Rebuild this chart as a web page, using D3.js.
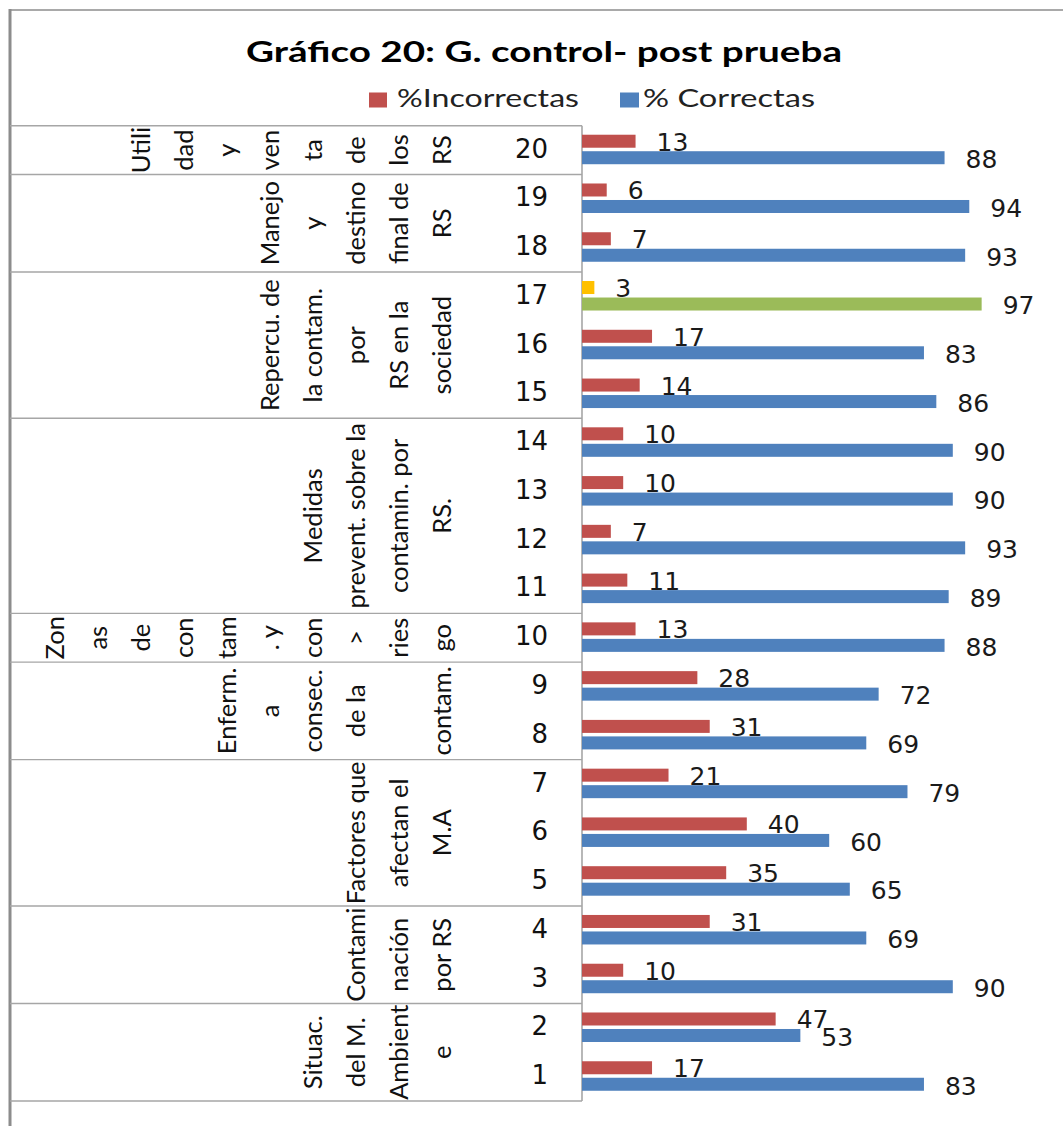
<!DOCTYPE html>
<html><head><meta charset="utf-8">
<script src="https://cdn.jsdelivr.net/npm/d3@7"></script>
<style>html,body{margin:0;padding:0;background:#fff;}svg{display:block;}</style>
</head><body>
<script>
// ---- data ----
const items = ["1","2","3","4","5","6","7","8","9","10","11","12","13","14","15","16","17","18","19","20"];
const incorrectas = [17,47,10,31,35,40,21,31,28,13,11,7,10,10,14,17,3,7,6,13];
const correctas   = [83,53,90,69,65,60,79,69,72,88,89,93,90,90,86,83,97,93,94,88];
const seriesNames = ["%Incorrectas","% Correctas"];
const highlightItem = "17";
const groupFirst = ["1","3","5","8","10","11","15","18","20"];
const groupLast  = ["2","4","7","9","10","14","17","19","20"];
const groupLines = [
  ["Situac.","del M.","Ambient","e"],
  ["Contami","nación","por RS"],
  ["Factores que","afectan el","M.A"],
  ["Enferm.","a","consec.","de la","","contam."],
  ["Zon","as","de","con","tam",". y","con",">","ries","go"],
  ["Medidas","prevent. sobre la","contamin. por","RS."],
  ["Repercu. de","la contam.","por","RS en la","sociedad"],
  ["Manejo","y","destino","final de","RS"],
  ["Utili","dad","y","ven","ta","de","los","RS"]
];
const title = "Gráfico 20: G. control- post prueba";

// ---- style ----
const W = 1063, H = 1126;
const colInc = "#C0504D", colCor = "#4F81BD", colIncHi = "#FFC000", colCorHi = "#9BBB59";
const lineCol = "#a6a6a6";

const svg = d3.select("body").append("svg").attr("width", W).attr("height", H);
svg.append("rect").attr("width", W).attr("height", H).attr("fill", "#fff");

// outer frame
svg.append("line").attr("x1", 10).attr("x2", W).attr("y1", 10).attr("y2", 10)
  .attr("stroke", "#8c8c8c").attr("stroke-width", 1.6);
svg.append("line").attr("x1", 10).attr("x2", 10).attr("y1", 9).attr("y2", H)
  .attr("stroke", "#8c8c8c").attr("stroke-width", 3);

// title
svg.append("text").attr("x", 544).attr("y", 62).attr("text-anchor", "middle")
  .attr("font-family", "Lato, 'Open Sans', sans-serif").attr("font-weight", "bold")
  .attr("font-size", 29).attr("fill", "#000")
  .attr("textLength", 596).attr("lengthAdjust", "spacingAndGlyphs").text(title);

// legend
const legend = [
  {name: seriesNames[0], color: colInc, rx: 369, rw: 18, tx: 397, tl: 182},
  {name: seriesNames[1], color: colCor, rx: 620, rw: 19, tx: 643, tl: 172}
];
legend.forEach(l => {
  svg.append("rect").attr("x", l.rx).attr("y", 92.5).attr("width", l.rw).attr("height", 15).attr("fill", l.color);
  svg.append("text").attr("x", l.tx).attr("y", 107).attr("font-family", "Lato, sans-serif")
    .attr("font-size", 25).attr("fill", "#222")
    .attr("textLength", l.tl).attr("lengthAdjust", "spacingAndGlyphs").text(l.name);
});

// scales
const x0 = 582;
const x = d3.scaleLinear().domain([0, 100]).range([x0, 994]);
const y = d3.scaleBand().domain(items.slice().reverse()).range([125.7, 1101]).padding(0);
const bw = y.bandwidth();
const sub = d3.scaleBand().domain(["inc", "cor"]).range([bw * 0.185, bw * 0.79]).paddingInner(0.212).paddingOuter(0);

// table
const tableLeft = 10;
const g = svg.append("g");
const bounds = [y(items[items.length - 1])].concat(groupFirst.map(f => y(f) + bw));
bounds.forEach(b => {
  g.append("line").attr("x1", tableLeft).attr("x2", x0).attr("y1", b).attr("y2", b)
    .attr("stroke", lineCol).attr("stroke-width", 1.4);
});
g.append("line").attr("x1", x0).attr("x2", x0).attr("y1", y("20")).attr("y2", y("1") + bw)
  .attr("stroke", lineCol).attr("stroke-width", 1.6);

// group labels (rotated, one column per line, block right-aligned)
const lastCol = 441, colStep = 43;
groupFirst.forEach((f, gi) => {
  const top = y(groupLast[gi]), bottom = y(f) + bw;
  const cy = (top + bottom) / 2;
  const lines = groupLines[gi];
  lines.forEach((ln, li) => {
    const cx = lastCol - (lines.length - 1 - li) * colStep;
    g.append("text").attr("transform", `translate(${cx},${cy}) rotate(-90)`)
      .attr("text-anchor", "middle").attr("dominant-baseline", "central")
      .attr("font-family", "Lato, sans-serif").attr("font-size", 25.5).attr("fill", "#111")
      .text(ln);
  });
});

// item numbers
g.selectAll("text.item").data(items).join("text").attr("class", "item")
  .attr("x", 548).attr("y", d => y(d) + bw / 2 - 1.5)
  .attr("text-anchor", "end").attr("dominant-baseline", "central")
  .attr("font-family", "'DejaVu Sans', sans-serif").attr("font-size", 26).attr("fill", "#111")
  .text(d => d);

// bars
const rows = items.map((it, i) => ({item: it, inc: incorrectas[i], cor: correctas[i]}));
const labFont = "'DejaVu Sans', sans-serif";
svg.selectAll("rect.inc").data(rows).join("rect").attr("class", "inc")
  .attr("x", x(0)).attr("y", d => y(d.item) + sub("inc"))
  .attr("width", d => x(d.inc) - x(0)).attr("height", sub.bandwidth())
  .attr("fill", d => d.item === highlightItem ? colIncHi : colInc);
svg.selectAll("text.linc").data(rows).join("text").attr("class", "linc")
  .attr("x", d => x(d.inc) + 21).attr("y", d => y(d.item) + sub("inc") + sub.bandwidth() / 2 + 1)
  .attr("dominant-baseline", "central").attr("font-family", labFont).attr("font-size", 25)
  .attr("fill", "#1a1a1a").text(d => d.inc);
svg.selectAll("rect.cor").data(rows).join("rect").attr("class", "cor")
  .attr("x", x(0)).attr("y", d => y(d.item) + sub("cor"))
  .attr("width", d => x(d.cor) - x(0)).attr("height", sub.bandwidth())
  .attr("fill", d => d.item === highlightItem ? colCorHi : colCor);
svg.selectAll("text.lcor").data(rows).join("text").attr("class", "lcor")
  .attr("x", d => x(d.cor) + 21).attr("y", d => y(d.item) + sub("cor") + sub.bandwidth() / 2 + 1.8)
  .attr("dominant-baseline", "central").attr("font-family", labFont).attr("font-size", 25)
  .attr("fill", "#1a1a1a").text(d => d.cor);
</script>
</body></html>
